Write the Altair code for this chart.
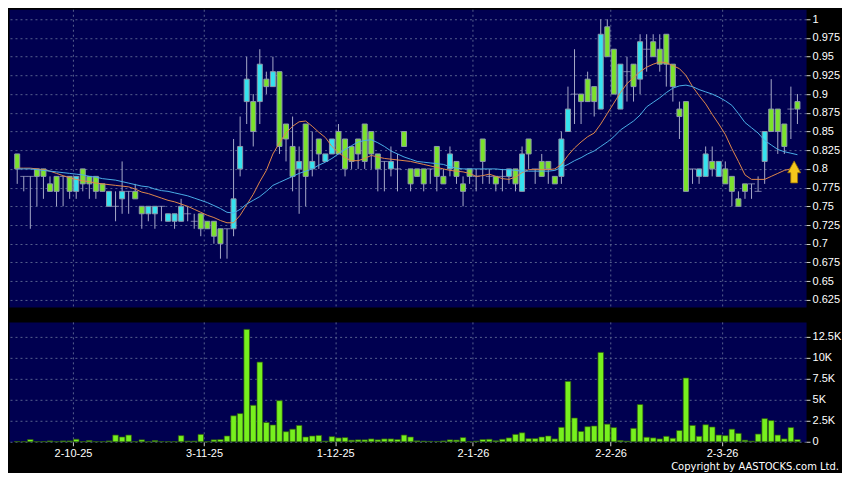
import altair as alt
import pandas as pd

# ---------------- data ----------------
opens = [.82,.79,.79,.80,.80,.78,.79,.79,.79,.77,
         .80,.79,.79,.78,.75,.75,.76,.77,.77,.75,
         .74,.74,.75,.73,.73,.73,.74,.73,.74,.73,
         .73,.72,.72,.72,.80,.89,.89,.89,.92,.91,
         .93,.86,.83,.80,.86,.80,.84,.81,.82,.85,
         .84,.83,.84,.86,.85,.82,.81,.80,.80,.85,
         .80,.80,.80,.80,.83,.79,.80,.81,.78,.80,
         .79,.84,.79,.79,.79,.79,.80,.77,.84,.80,
         .81,.81,.79,.79,.85,.90,.90,.92,.91,.88,
         .99,.96,.88,.93,.94,.92,.96,.97,.96,.98,
         .94,.88,.89,.80,.79,.79,.81,.79,.80,.79,
         .76,.78,.78,.77,.81,.88,.88,.86,.88,.89]
highs = [.82,.79,.79,.80,.80,.79,.79,.79,.79,.79,
         .80,.79,.79,.78,.77,.77,.81,.77,.78,.75,
         .75,.75,.75,.74,.74,.76,.75,.74,.74,.73,
         .73,.72,.72,.84,.87,.95,.90,.96,.93,.95,
         .93,.86,.87,.83,.86,.85,.84,.82,.84,.86,
         .84,.83,.84,.86,.85,.82,.81,.83,.82,.85,
         .80,.80,.80,.80,.83,.80,.83,.81,.79,.80,
         .80,.84,.80,.79,.80,.80,.80,.83,.84,.80,
         .82,.81,.79,.85,.91,.96,.90,.93,.91,1.0,
         1.0,.96,.94,.95,.94,.98,.98,.98,.98,.98,
         .94,.89,.89,.80,.80,.83,.83,.81,.81,.79,
         .77,.78,.78,.79,.85,.92,.88,.86,.91,.90]
lows = [.78,.77,.72,.75,.76,.77,.75,.75,.76,.76,
        .77,.76,.76,.77,.75,.73,.74,.74,.76,.72,
        .73,.72,.73,.73,.72,.73,.73,.72,.71,.72,
        .70,.68,.68,.71,.79,.86,.83,.86,.90,.91,
        .82,.81,.77,.74,.75,.79,.80,.81,.82,.82,
        .79,.80,.80,.80,.80,.77,.77,.79,.77,.83,
        .77,.79,.77,.78,.77,.78,.79,.78,.75,.78,
        .77,.78,.78,.77,.77,.78,.77,.77,.80,.78,
        .79,.78,.78,.78,.85,.86,.86,.89,.87,.88,
        .95,.90,.88,.89,.89,.90,.93,.95,.93,.91,
        .89,.84,.77,.78,.78,.79,.79,.79,.78,.75,
        .75,.76,.76,.77,.78,.85,.82,.82,.84,.86]
closes = [.80,.79,.79,.79,.79,.77,.77,.79,.77,.79,
          .78,.78,.77,.77,.77,.75,.77,.77,.76,.74,
          .75,.75,.75,.74,.74,.75,.74,.73,.72,.72,
          .71,.70,.72,.76,.83,.92,.85,.94,.91,.93,
          .83,.84,.79,.81,.79,.81,.82,.82,.84,.82,
          .80,.81,.82,.81,.82,.80,.81,.81,.80,.83,
          .78,.79,.78,.80,.79,.78,.82,.79,.77,.79,
          .79,.81,.79,.78,.79,.80,.78,.82,.82,.80,
          .79,.80,.78,.84,.88,.90,.89,.89,.89,.98,
          .95,.90,.94,.93,.91,.97,.96,.95,.94,.94,
          .91,.87,.77,.80,.80,.82,.80,.81,.78,.77,
          .75,.77,.78,.77,.85,.85,.85,.83,.88,.88]
ma_short = [.801,.801,.801,.800,.799,.797,.794,.791,.788,.786,
            .784,.783,.781,.780,.779,.778,.777,.776,.773,.769,
            .767,.764,.761,.758,.756,.753,.750,.746,.742,.738,
            .735,.731,.728,.728,.738,.752,.766,.783,.798,.820,
            .835,.848,.857,.863,.864,.857,.849,.842,.830,.822,
            .815,.811,.811,.814,.818,.816,.814,.813,.812,.811,
            .810,.808,.806,.804,.802,.800,.798,.797,.796,.794,
            .790,.791,.793,.790,.787,.786,.789,.795,.799,.799,
            .799,.799,.800,.806,.818,.828,.836,.843,.848,.860,
            .874,.888,.902,.914,.922,.930,.936,.940,.943,.942,
            .938,.934,.925,.910,.898,.887,.873,.860,.846,.827,
            .810,.792,.786,.786,.786,.790,.794,.798,.800,.800]
ma_long = [.800,.800,.800,.799,.798,.797,.796,.795,.794,.793,
           .792,.790,.789,.787,.786,.785,.783,.781,.779,.777,
           .776,.773,.771,.770,.768,.766,.764,.761,.758,.755,
           .751,.747,.742,.741,.746,.753,.758,.763,.770,.778,
           .782,.786,.790,.794,.797,.800,.805,.809,.814,.820,
           .826,.831,.836,.838,.839,.835,.830,.824,.820,.816,
           .813,.810,.809,.808,.807,.806,.803,.801,.800,.800,
           .800,.800,.800,.800,.799,.799,.798,.797,.797,.797,
           .797,.797,.798,.802,.806,.811,.815,.820,.824,.830,
           .836,.843,.852,.858,.864,.872,.883,.889,.895,.902,
           .908,.911,.912,.910,.906,.903,.900,.896,.891,.885,
           .874,.862,.855,.848,.838,.832,.826,.823,.821,.819]
volume_k = [.03,.02,.27,.02,.03,.10,.02,.10,.10,.30,
            .03,.15,.02,.02,.10,.80,.57,.80,.02,.23,
            .02,.15,.02,.02,.02,.73,.08,.08,.88,.02,
            .23,.27,.69,3.1,3.36,13.4,4.35,9.5,2.3,2.0,
            4.9,1.2,1.5,1.95,.57,.69,.76,.08,.61,.46,
            .50,.19,.23,.23,.34,.23,.34,.34,.27,.80,
            .57,.11,.08,.05,.04,.10,.23,.20,.50,.02,
            .08,.27,.30,.12,.30,.46,.88,1.07,.38,.38,
            .57,.69,.34,1.72,7.2,2.83,1.23,1.8,1.88,10.65,
            2.1,1.69,.15,.08,1.6,4.44,.54,.46,.34,.65,
            .42,1.34,7.6,1.95,.65,2.03,1.76,.80,.73,1.5,
            1.0,.19,.08,.92,2.76,2.53,.80,.34,1.69,.27]

month_pos = [8.5, 28.5, 48.5, 69.5, 90.5, 107.5]
month_labels = ["2-10-25", "3-11-25", "1-12-25", "2-1-26", "2-2-26", "2-3-26"]
price_ticks = [1.0, 0.975, 0.95, 0.925, 0.9, 0.875, 0.85, 0.825, 0.8,
               0.775, 0.75, 0.725, 0.7, 0.675, 0.65, 0.625]
vol_ticks = [0, 2.5, 5, 7.5, 10, 12.5]
arrow_i = [118.5]
arrow_price = [0.796]
copyright = "Copyright by AASTOCKS.com Ltd."

# ---------------- styling ----------------
W = 798
H_MAIN = 298
H_VOL = 120
GREEN = "#7be22c"
CYAN = "#35e3ef"
GRID = "#56608e"
TXT = "#ffffff"
FONT = "Liberation Sans"

n = len(opens)
df = pd.DataFrame({"i": list(range(n)), "open": opens, "high": highs,
                   "low": lows, "close": closes, "ma_s": ma_short,
                   "ma_l": ma_long, "vol": volume_k})
df["dir"] = ["up" if c > o else ("down" if c < o else "flat")
             for o, c in zip(opens, closes)]

xscale = alt.Scale(domain=[-0.49, 119.55], nice=False, zero=False)
lab_arr = "[" + ",".join("'%s'" % s for s in month_labels) + "]"
pos_arr = "[" + ",".join(str(p) for p in month_pos) + "]"

def xenc(show):
    if show:
        ax = alt.Axis(values=month_pos, labelExpr=lab_arr + "[indexof(" + pos_arr + ", datum.value)]",
                      grid=True, gridColor=GRID, gridDash=[2, 3], domain=False,
                      ticks=True, tickSize=4, tickColor="#d0d0d0", labelColor=TXT,
                      labelFont=FONT, labelFontSize=11, labelPadding=2, title=None)
    else:
        ax = alt.Axis(values=month_pos, grid=True, gridColor=GRID, gridDash=[2, 3],
                      domain=False, ticks=False, labels=False, title=None)
    return alt.X("i:Q", scale=xscale, axis=ax)

pscale = alt.Scale(domain=[0.6155, 1.0134], nice=False, zero=False)
paxis = alt.Axis(orient="right", values=price_ticks, format=".3~f", grid=True,
                 gridColor=GRID, gridDash=[2, 3], domain=False, tickSize=4,
                 tickColor="#d0d0d0", labelColor=TXT, labelFont=FONT,
                 labelFontSize=11, labelPadding=2, title=None)

def ypr(field):
    return alt.Y(field + ":Q", scale=pscale, axis=paxis)

base = alt.Chart(df)

wicks = base.mark_rule(color="#a6a9c8", strokeWidth=1).encode(
    x=xenc(False), y=ypr("low"), y2="high:Q")

bodies = base.transform_filter("datum.dir != 'flat'").mark_bar(
    size=5, stroke="#8e9aac", strokeWidth=1).encode(
    x=xenc(False), y=ypr("open"), y2="close:Q",
    color=alt.Color("dir:N", scale=alt.Scale(domain=["up", "down"], range=[CYAN, GREEN]),
                    legend=None))

dojis = base.transform_filter("datum.dir == 'flat'").mark_tick(
    orient="horizontal", size=7, thickness=1, color="#a6a9c8").encode(
    x=xenc(False), y=ypr("close"))

line_s = base.mark_line(color="#e0884a", strokeWidth=1).encode(x=xenc(False), y=ypr("ma_s"))
line_l = base.mark_line(color="#4aaee6", strokeWidth=1).encode(x=xenc(False), y=ypr("ma_l"))

arrow_df = pd.DataFrame({"i": arrow_i, "p": arrow_price})
arrow = alt.Chart(arrow_df).mark_point(
    shape="M0,-1L0.59,0.08L0.31,0.08L0.31,1L-0.31,1L-0.31,0.08L-0.59,0.08Z",
    size=484, filled=True, fill="#f5c61c", stroke="#9a7208", strokeWidth=0.8,
    opacity=1).encode(x=xenc(False), y=ypr("p"))

main = alt.layer(wicks, bodies, dojis, line_s, line_l, arrow).properties(
    width=W, height=H_MAIN)

vscale = alt.Scale(domain=[0, 14.29], nice=False, zero=True)
vaxis = alt.Axis(orient="right", values=vol_ticks,
                 labelExpr="datum.value == 0 ? '0' : format(datum.value, '~g') + 'K'",
                 grid=True, gridColor=GRID, gridDash=[2, 3], domain=False,
                 tickSize=4, tickColor="#d0d0d0", labelColor=TXT, labelFont=FONT,
                 labelFontSize=11, labelPadding=2, title=None)

vbars = base.mark_bar(size=5.6, fill="#77f01e", stroke="#2c5a0c", strokeWidth=0.7).encode(
    x=xenc(True), y=alt.Y("vol:Q", scale=vscale, axis=vaxis))

copy_df = pd.DataFrame({"t": [copyright]})
ctext = alt.Chart(copy_df).mark_text(
    align="right", baseline="middle", color=TXT, font="DejaVu Sans",
    fontSize=10).encode(text="t:N", x=alt.value(831), y=alt.value(145))

vol = alt.layer(vbars, ctext).properties(width=W, height=H_VOL)

chart = alt.vconcat(main, vol, spacing=13).properties(
    background="#000000", padding=0).configure_view(
    fill="#000050", stroke="transparent")

chart.save("out.html", embed_options={"renderer": "svg", "actions": False})
